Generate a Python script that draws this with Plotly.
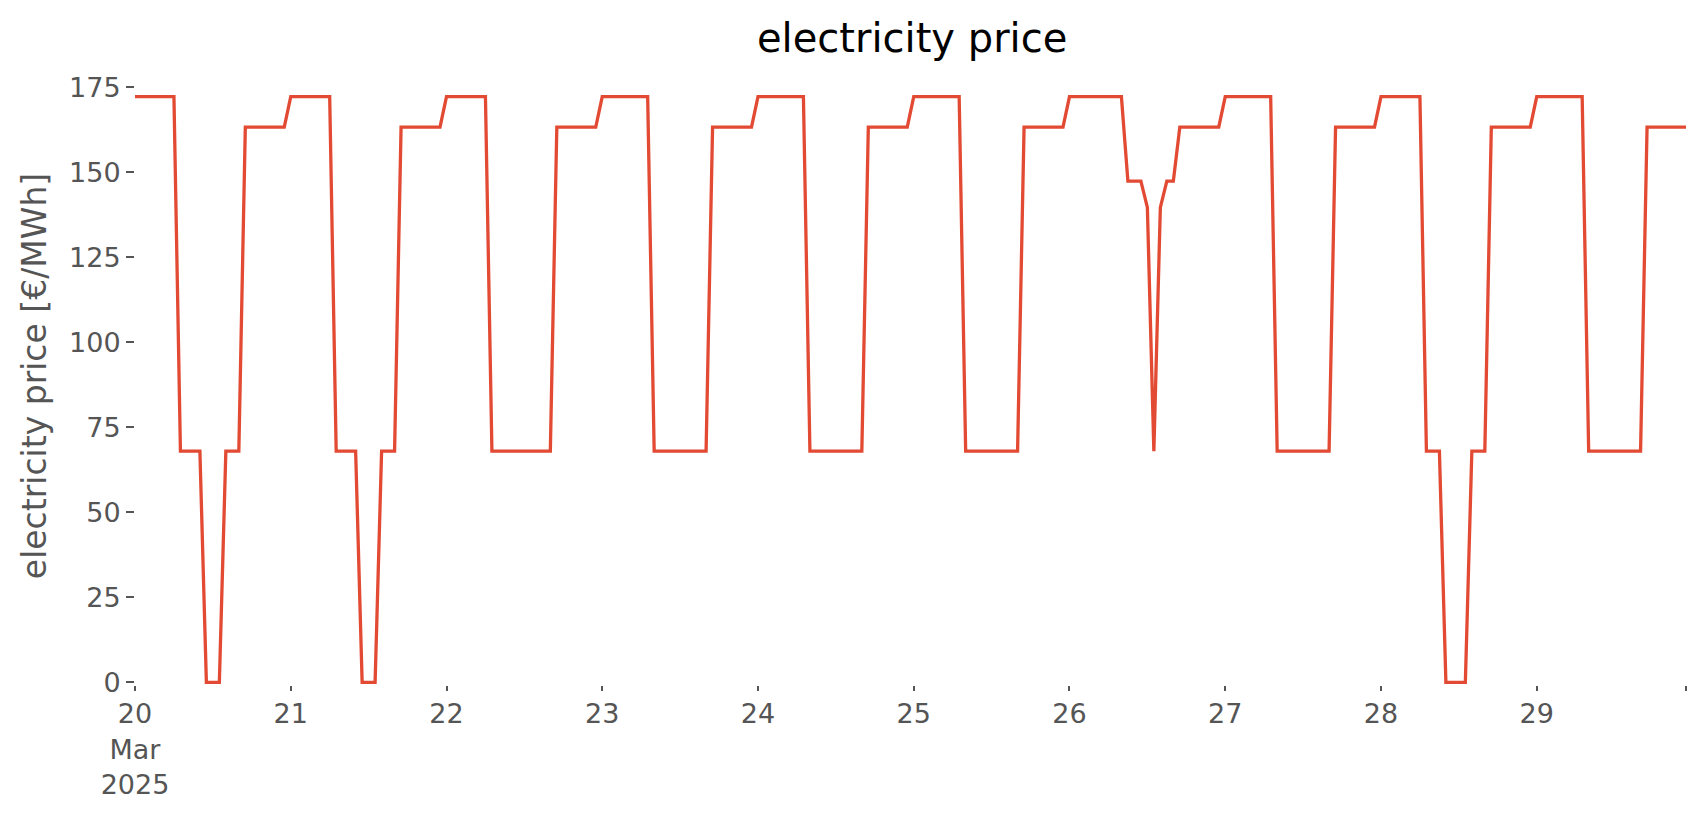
import pandas as pd
import plotly.graph_objects as go

# hourly electricity price [€/MWh], one list per day (hours 0..23)
day_20 = [172.3, 172.3, 172.3, 172.3, 172.3, 172.3, 172.3, 68.0, 68.0, 68.0, 68.0, 0.0,
          0.0, 0.0, 68.0, 68.0, 68.0, 163.3, 163.3, 163.3, 163.3, 163.3, 163.3, 163.3]
day_21 = [172.3, 172.3, 172.3, 172.3, 172.3, 172.3, 172.3, 68.0, 68.0, 68.0, 68.0, 0.0,
          0.0, 0.0, 68.0, 68.0, 68.0, 163.3, 163.3, 163.3, 163.3, 163.3, 163.3, 163.3]
day_22 = [172.3, 172.3, 172.3, 172.3, 172.3, 172.3, 172.3, 68.0, 68.0, 68.0, 68.0, 68.0,
          68.0, 68.0, 68.0, 68.0, 68.0, 163.3, 163.3, 163.3, 163.3, 163.3, 163.3, 163.3]
day_23 = [172.3, 172.3, 172.3, 172.3, 172.3, 172.3, 172.3, 172.3, 68.0, 68.0, 68.0, 68.0,
          68.0, 68.0, 68.0, 68.0, 68.0, 163.3, 163.3, 163.3, 163.3, 163.3, 163.3, 163.3]
day_24 = [172.3, 172.3, 172.3, 172.3, 172.3, 172.3, 172.3, 172.3, 68.0, 68.0, 68.0, 68.0,
          68.0, 68.0, 68.0, 68.0, 68.0, 163.3, 163.3, 163.3, 163.3, 163.3, 163.3, 163.3]
day_25 = [172.3, 172.3, 172.3, 172.3, 172.3, 172.3, 172.3, 172.3, 68.0, 68.0, 68.0, 68.0,
          68.0, 68.0, 68.0, 68.0, 68.0, 163.3, 163.3, 163.3, 163.3, 163.3, 163.3, 163.3]
day_26 = [172.3, 172.3, 172.3, 172.3, 172.3, 172.3, 172.3, 172.3, 172.3, 147.4, 147.4, 147.4,
          139.7, 68.0, 139.7, 147.4, 147.4, 163.3, 163.3, 163.3, 163.3, 163.3, 163.3, 163.3]
day_27 = [172.3, 172.3, 172.3, 172.3, 172.3, 172.3, 172.3, 172.3, 68.0, 68.0, 68.0, 68.0,
          68.0, 68.0, 68.0, 68.0, 68.0, 163.3, 163.3, 163.3, 163.3, 163.3, 163.3, 163.3]
day_28 = [172.3, 172.3, 172.3, 172.3, 172.3, 172.3, 172.3, 68.0, 68.0, 68.0, 0.0, 0.0,
          0.0, 0.0, 68.0, 68.0, 68.0, 163.3, 163.3, 163.3, 163.3, 163.3, 163.3, 163.3]
day_29 = [172.3, 172.3, 172.3, 172.3, 172.3, 172.3, 172.3, 172.3, 68.0, 68.0, 68.0, 68.0,
          68.0, 68.0, 68.0, 68.0, 68.0, 163.3, 163.3, 163.3, 163.3, 163.3, 163.3, 163.3]

days = ["2025-03-20", "2025-03-21", "2025-03-22", "2025-03-23", "2025-03-24",
        "2025-03-25", "2025-03-26", "2025-03-27", "2025-03-28", "2025-03-29"]
day_values = [day_20, day_21, day_22, day_23, day_24, day_25, day_26, day_27, day_28, day_29]

x_tick_labels = ["20<br>Mar<br>2025", "21", "22", "23", "24", "25", "26", "27", "28", "29", ""]
y_tick_values = [0, 25, 50, 75, 100, 125, 150, 175]

times = []
prices = []
for d, vals in zip(days, day_values):
    for h, v in enumerate(vals):
        times.append(pd.Timestamp(d) + pd.Timedelta(hours=h))
        prices.append(v)

tick_positions = [pd.Timestamp(d) for d in days] + [times[-1]]

FONT = "DejaVu Sans"
GREY = "#555555"

fig = go.Figure()
fig.add_trace(go.Scatter(x=times, y=prices, mode="lines",
                         line=dict(color="#E24A33", width=3.3), showlegend=False))

fig.update_layout(
    width=1690, height=800,
    paper_bgcolor="white", plot_bgcolor="white",
    margin=dict(l=127, r=12, t=59, b=123),
    font=dict(family=FONT, color=GREY, size=27),
    title=dict(text="electricity price", x=0.535, xanchor="center", y=0.9625, yanchor="middle",
               font=dict(family=FONT, size=40, color="black")),
)
fig.update_xaxes(
    type="date", range=[times[0], times[-1]], automargin=False,
    tickmode="array", tickvals=tick_positions, ticktext=x_tick_labels,
    ticks="outside", ticklen=5, tickwidth=1.5, tickcolor=GREY,
    tickfont=dict(family=FONT, size=27, color=GREY),
    showgrid=False, zeroline=False, showline=False,
)
fig.update_yaxes(
    range=[-0.8, 181], automargin=False,
    tickmode="array", tickvals=y_tick_values,
    ticks="outside", ticklen=8, tickwidth=1.5, tickcolor=GREY,
    tickfont=dict(family=FONT, size=27, color=GREY),
    title=dict(text="electricity price [€/MWh]", standoff=12,
               font=dict(family=FONT, size=33, color=GREY)),
    showgrid=False, zeroline=False, showline=False,
)

fig.write_html("out.html")
